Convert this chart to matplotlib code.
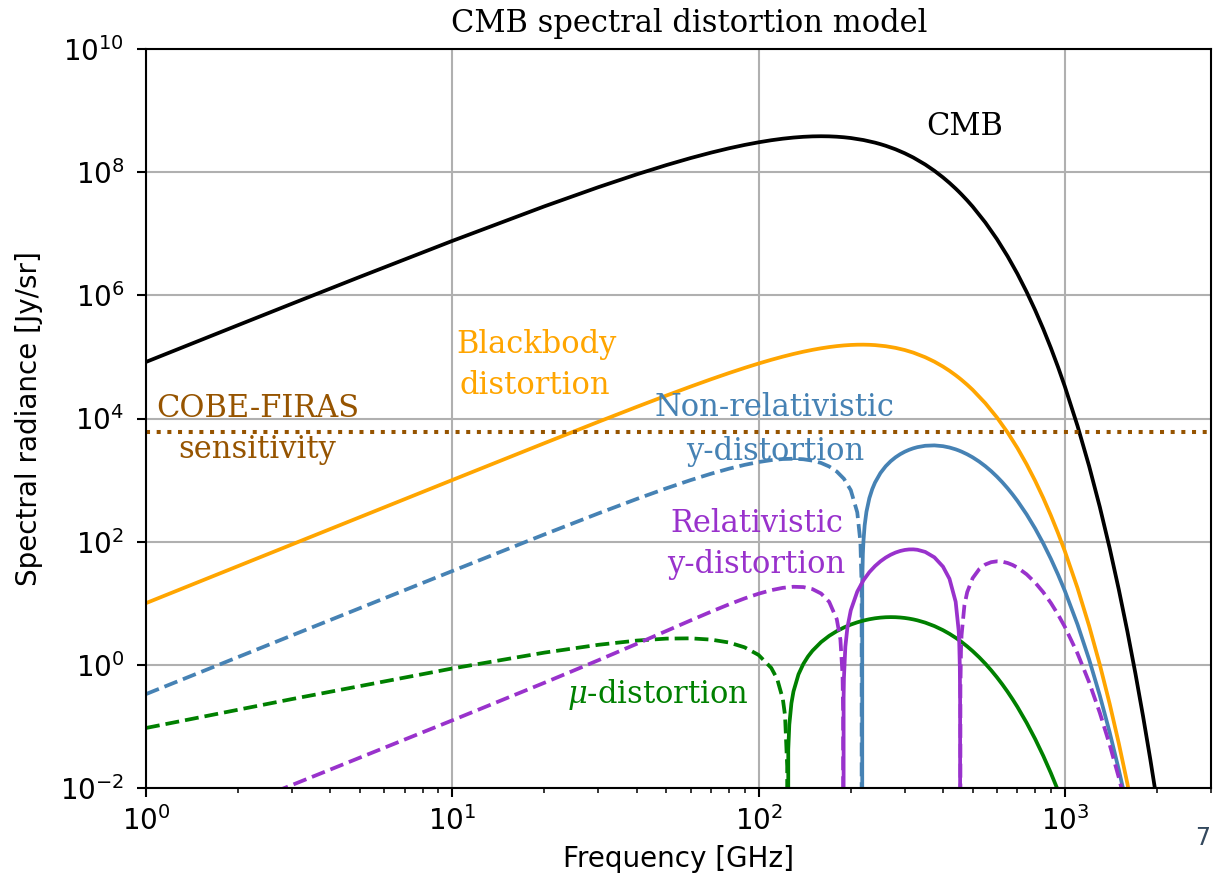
import numpy as np
import matplotlib
matplotlib.use("Agg")
import matplotlib.pyplot as plt

# Spectra in Jy/sr vs frequency in GHz.
# Negative values are plotted as |value| with dashed lines.
freq_cmb = [1, 2, 3, 5, 10, 20, 30, 40, 50, 60, 70, 80, 90, 100, 110, 120,
            130, 140, 150, 160, 170, 180, 190, 200, 220, 240, 250, 260, 280,
            300, 320, 350, 375, 400, 420, 440, 450, 460, 480, 500, 550, 600,
            650, 700, 750, 800, 850, 900, 950, 1000, 1100, 1200, 1300, 1400,
            1500, 1600, 1700, 1800, 1900, 2000]
cmb = [8.29e4, 3.286e5, 7.33e5, 2.0e6, 7.65e6, 2.79e7, 5.71e7, 9.21e7,
       1.303e8, 1.695e8, 2.078e8, 2.439e8, 2.767e8, 3.055e8, 3.300e8,
       3.497e8, 3.647e8, 3.751e8, 3.812e8, 3.832e8, 3.815e8, 3.765e8,
       3.687e8, 3.585e8, 3.324e8, 3.016e8, 2.851e8, 2.684e8, 2.350e8,
       2.027e8, 1.728e8, 1.331e8, 1.053e8, 8.22e7, 6.693e7, 5.410e7,
       4.852e7, 4.346e7, 3.471e7, 2.76e7, 1.522e7, 8.19e6, 4.317e6, 2.236e6,
       1.139e6, 5.73e5, 2.851e5, 1.402e5, 6.840e4, 3.306e4, 7562, 1687,
       368.7, 79.1, 16.72, 3.49, 0.719, 0.1465, 0.02965, 5.94e-3]

freq_bb = [1, 3, 10, 20, 30, 40, 50, 60, 70, 80, 90, 100, 110, 120, 130, 140,
           150, 160, 170, 180, 190, 200, 210, 220, 230, 240, 260, 280, 300,
           320, 350, 375, 400, 420, 440, 450, 460, 480, 500, 550, 600, 650,
           700, 750, 800, 850, 900, 950, 1000, 1100, 1200, 1300, 1400, 1500,
           1600, 1700]
blackbody = [10.05, 90.4, 1002, 3979, 8838, 15431, 23562, 32993, 43453,
             54657, 66305, 78102, 89767, 101038, 111682, 121502, 130321,
             138021, 144513, 149745, 153696, 156377, 157830, 158109, 157299,
             155485, 149263, 140295, 129431, 117455, 98810, 83711, 69708,
             59545, 50410, 46239, 42330, 35280, 29202, 17720, 10404, 5940,
             3313, 1809, 970.5, 512.9, 267.2, 137.6, 69.98, 17.61, 4.286,
             1.015, 0.2344, 0.05308, 0.01181, 2.59e-3]

freq_y = [1, 3, 10, 20, 30, 40, 50, 60, 70, 80, 90, 100, 110, 120, 130, 140,
          150, 160, 170, 180, 190, 200, 210, 215, 217, 217.47, 218, 219, 220,
          222, 225, 230, 235, 240, 250, 260, 270, 280, 290, 300, 310, 320,
          330, 350, 375, 400, 420, 440, 450, 460, 480, 500, 525, 550, 575,
          600, 625, 650, 675, 700, 750, 800, 850, 900, 950, 1000, 1100, 1200,
          1300, 1400, 1500, 1600]
y_nonrel = [-0.335, -3.014, -33.33, -131.3, -287.8, -493.3, -735.3, -999.3,
            -1269.5, -1530, -1765.7, -1962.9, -2110.1, -2198.8, -2222.9,
            -2180.0, -2069.9, -1895.7, -1662.5, -1377.5, -1049.0, -686.1,
            -299.1, -99.5, -18.9, 0, 21.5, 62.0, 102.5, 183.9, 306.0, 509.2,
            711.7, 912.3, 1303.9, 1676.9, 2025.5, 2345.3, 2632.7, 2885.2,
            3101.6, 3281.3, 3424.6, 3607.0, 3658.8, 3551.6, 3380.2, 3155.6,
            3029.5, 2897.0, 2620.9, 2340.3, 1998.7, 1679.8, 1391.8, 1138.7,
            921.0, 737.3, 584.7, 459.8, 277.7, 163.2, 93.78, 52.77, 29.19,
            15.88, 4.512, 1.224, 0.3196, 0.0807, 0.0198, 0.00476]

freq_rel = [1, 3, 10, 20, 30, 40, 50, 60, 70, 80, 90, 100, 110, 120, 130, 140,
            150, 160, 170, 180, 185, 188, 188.8, 189.06, 189.5, 190, 192, 195,
            200, 210, 220, 230, 240, 250, 260, 270, 280, 290, 300, 310, 320,
            330, 350, 375, 400, 420, 440, 450, 452, 454, 455, 455.4, 456, 458,
            460, 470, 480, 500, 525, 550, 575, 600, 625, 650, 675, 700, 750,
            800, 850, 900, 950, 1000, 1100, 1200, 1300, 1400, 1500, 1600]
y_rel = [-0.001245, -0.01121, -0.1254, -0.5122, -1.189, -2.191, -3.548,
         -5.263, -7.301, -9.581, -11.97, -14.28, -16.30, -17.79, -18.52,
         -18.30, -16.95, -14.38, -10.55, -5.513, -2.575, -0.6877, -0.1687, 0,
         0.2910, 0.6224, 1.963, 4.042, 7.683, 15.44, 23.62, 32.01, 40.15,
         47.95, 55.09, 61.35, 66.56, 70.59, 73.35, 74.81, 74.96, 73.85,
         68.13, 55.67, 39.33, 24.97, 10.57, 3.627, 2.270, 0.925, 0.257, 0,
         -0.4077, -1.726, -3.028, -9.324, -15.21, -25.57, -35.67, -42.57,
         -46.51, -47.92, -47.28, -45.09, -41.85, -37.96, -29.52, -21.62,
         -15.09, -10.12, -6.563, -4.135, -1.528, -0.5218, -0.1673, -0.05084,
         -0.0148, -0.00415]

freq_mu = [1, 3, 10, 20, 30, 40, 50, 60, 70, 80, 90, 100, 110, 115, 120, 122,
           124, 124.35, 125, 126, 128, 130, 135, 140, 145, 150, 160, 170, 180,
           190, 200, 210, 220, 230, 240, 250, 260, 270, 280, 290, 300, 310,
           320, 330, 350, 375, 400, 420, 440, 450, 460, 480, 500, 525, 550,
           575, 600, 625, 650, 675, 700, 750, 800, 850, 900, 950, 1000]
mu = [-0.0943, -0.2784, -0.8723, -1.580, -2.115, -2.476, -2.666, -2.693,
      -2.567, -2.306, -1.926, -1.447, -0.891, -0.5907, -0.2787, -0.1510,
      -0.0225, 0, 0.0422, 0.1072, 0.2377, 0.3693, 0.7008, 1.034, 1.366,
      1.696, 2.341, 2.954, 3.523, 4.041, 4.502, 4.899, 5.232, 5.499, 5.702,
      5.843, 5.927, 5.956, 5.935, 5.871, 5.768, 5.631, 5.465, 5.277, 4.848,
      4.258, 3.656, 3.190, 2.752, 2.547, 2.351, 1.989, 1.670, 1.327, 1.044,
      0.8129, 0.6277, 0.4807, 0.3656, 0.2761, 0.2073, 0.1148, 0.06238,
      0.03332, 0.01752, 0.009098, 0.004664]

firas_level = 6.0e3

xticks = [1, 10, 100, 1000]
yticks = [1e-2, 1e0, 1e2, 1e4, 1e6, 1e8, 1e10]

BROWN = "#965400"
SERIF = "DejaVu Serif"


def plot_signed(ax, f, v, color):
    f = np.asarray(f, dtype=float)
    v = np.asarray(v, dtype=float)
    neg = np.where(v <= 0, -v, np.nan)
    pos = np.where(v >= 0, v, np.nan)
    ax.plot(f, neg, "--", color=color, lw=2.7)
    ax.plot(f, pos, "-", color=color, lw=2.7)


fig = plt.figure(figsize=(12.13, 8.76), dpi=100)
ax = fig.add_axes([146 / 1213, 88 / 876, 1065 / 1213, 739 / 876])
ax.set_xscale("log")
ax.set_yscale("log")

ax.plot(freq_cmb, cmb, color="black", lw=2.7)
ax.plot(freq_bb, blackbody, color="orange", lw=2.7)
plot_signed(ax, freq_y, y_nonrel, "steelblue")
plot_signed(ax, freq_mu, mu, "green")
plot_signed(ax, freq_rel, y_rel, "darkorchid")
ax.axhline(firas_level, ls=":", color=BROWN, lw=2.9)

ax.set_xlim(1, 3000)
ax.set_ylim(1e-2, 1e10)
ax.set_xticks(xticks)
ax.set_yticks(yticks)
ax.yaxis.set_minor_locator(matplotlib.ticker.NullLocator())
ax.grid(True, which="major", color="#b0b0b0", lw=1.5)
ax.tick_params(which="major", length=6.6, width=1.5, labelsize=20, pad=6.6)
ax.tick_params(axis="y", which="major", pad=9)
ax.tick_params(which="minor", length=3.8, width=1.1)
for s in ax.spines.values():
    s.set_linewidth(1.5)

ax.set_xlabel("Frequency [GHz]", fontsize=20, labelpad=6)
ax.set_ylabel("Spectral radiance [Jy/sr]", fontsize=20, labelpad=12)
ax.set_title("CMB spectral distortion model", fontsize=22, family=SERIF,
             x=0.51, pad=12)

# curve labels, one entry per line of text: (text, freq, level, color)
labels = [
    ("CMB", 472, 4.0e8, "black"),
    ("Blackbody", 18.8, 1.16e5, "orange"),
    ("distortion", 18.6, 2.5e4, "orange"),
    ("COBE-FIRAS", 2.32, 1.06e4, BROWN),
    ("sensitivity", 2.31, 2.29e3, BROWN),
    ("Non-relativistic", 113, 1.10e4, "steelblue"),
    ("y-distortion", 113, 2.13e3, "steelblue"),
    ("Relativistic", 98.8, 144, "darkorchid"),
    ("y-distortion", 98, 31.2, "darkorchid"),
    (r"$\mu$-distortion", 46.9, 0.2415, "green"),
]
for txt, f, lev, c in labels:
    ax.text(f, lev, txt, color=c, fontsize=22, family=SERIF, ha="center",
            va="baseline", math_fontfamily="dejavuserif")

fig.text(1203 / 1213, 1 - 838 / 876, "7", color="#34495e", fontsize=17,
         ha="center", va="center")

fig.savefig("out.png", dpi=100)
